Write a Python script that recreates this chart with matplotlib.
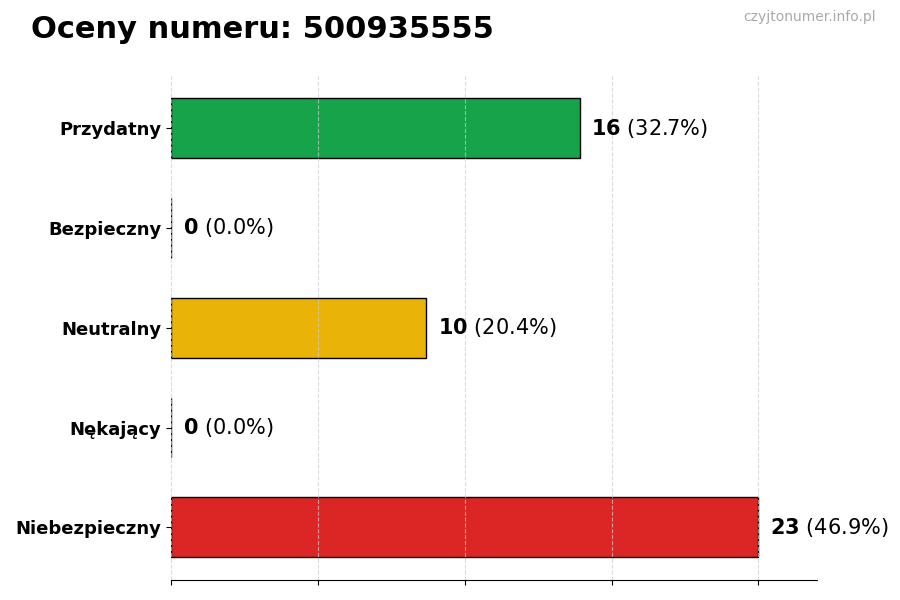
import matplotlib
matplotlib.use("Agg")
import matplotlib.pyplot as plt

categories = ["Przydatny", "Bezpieczny", "Neutralny", "Nękający", "Niebezpieczny"]
values = [16, 0, 10, 0, 23]
colors = ["#16a34a", "#22c55e", "#eab308", "#f97316", "#dc2626"]
title = "Oceny numeru: 500935555"
watermark = "czyjtonumer.info.pl"

total = sum(values)
fig = plt.figure(figsize=(9, 6), dpi=100)
ax = fig.add_axes([0.19, 0.033, 0.718, 0.84])

ypos = list(range(len(categories)))
ax.barh(ypos, values, height=0.6, color=colors, edgecolor="black", linewidth=1, zorder=2)
ax.set_ylim(4.53, -0.52)
maxv = max(values)
ax.set_xlim(0, maxv * 1.1)
ax.set_xticks([maxv * i / 4 for i in range(5)])
ax.set_xticklabels([])
ax.xaxis.grid(True, linestyle="--", color="#cccccc", alpha=0.7, linewidth=0.8, zorder=3)
ax.set_axisbelow(False)
ax.set_yticks(ypos)
ax.set_yticklabels(categories, fontsize=13, fontweight="bold")
for s in ["top", "right", "left"]:
    ax.spines[s].set_visible(False)

for y, v in zip(ypos, values):
    pct = v / total * 100
    ax.text(v + maxv * 0.02, y, f"$\\bf{{{v}}}$ ({pct:.1f}%)", va="center", ha="left", fontsize=15)

fig.text(0.034, 0.95, title, fontsize=22, fontweight="bold", va="center", ha="left")
fig.text(0.973, 0.972, watermark, fontsize=10, color="#aaaaaa", va="center", ha="right")

fig.savefig("out.png", dpi=100)
